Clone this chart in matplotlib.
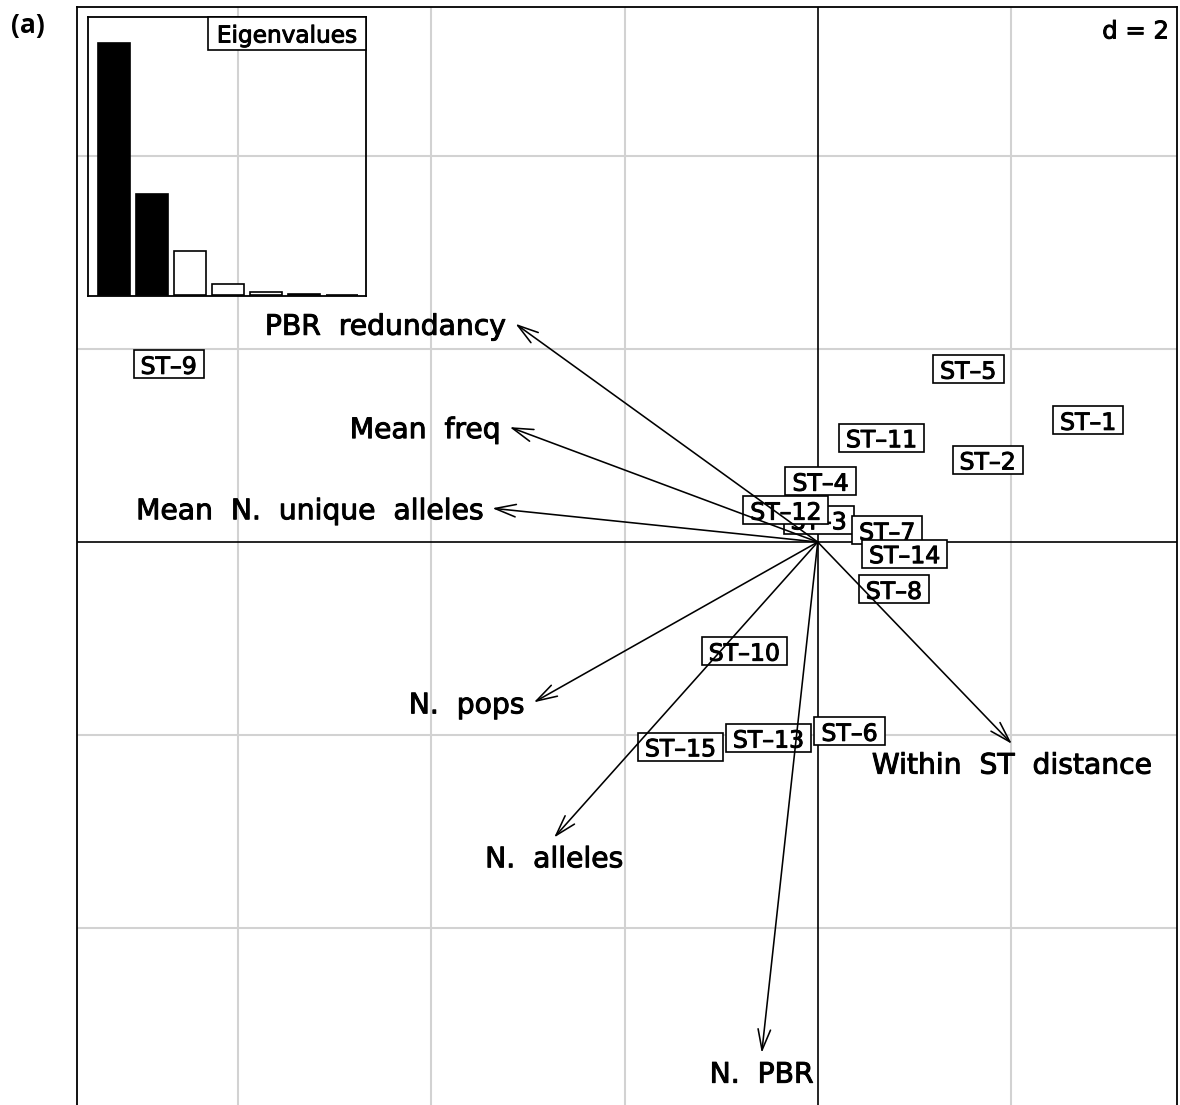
import matplotlib
matplotlib.use('Agg')
from matplotlib import pyplot as plt
from matplotlib.patches import Rectangle, FancyArrowPatch, ArrowStyle
from matplotlib.transforms import IdentityTransform
import matplotlib.patheffects as pe
import numpy as np

# row scores (sequence types)
st_names = ['ST–1', 'ST–2', 'ST–3', 'ST–4', 'ST–5', 'ST–6', 'ST–7', 'ST–8',
            'ST–9', 'ST–10', 'ST–11', 'ST–12', 'ST–13', 'ST–14', 'ST–15']
st_x = [2.80, 1.76, 0.01, 0.03, 1.56, 0.33, 0.72, 0.79,
        -6.72, -0.76, 0.66, -0.33, -0.51, 0.90, -1.42]
st_y = [1.26, 0.85, 0.23, 0.63, 1.79, -1.96, 0.12, -0.49,
        1.84, -1.13, 1.08, 0.33, -2.03, -0.12, -2.12]

# column scores (variables)
var_names = ['PBR  redundancy', 'Mean  freq', 'Mean  N.  unique  alleles',
             'N.  pops', 'N.  alleles', 'Within  ST  distance', 'N.  PBR']
var_x = [-3.13, -3.19, -3.37, -2.94, -2.73, 2.01, -0.58]
var_y = [2.26, 1.19, 0.35, -1.66, -3.06, -2.09, -5.29]

# eigenvalues, first two axes kept
eig = [4.27, 1.71, 0.746, 0.186, 0.051, 0.025, 0.008]
n_kept = 2
grid_d = 2

heavy = [pe.withStroke(linewidth=0.7, foreground='black')]

W, H = 1180, 1105
fig = plt.figure(figsize=(W / 100, H / 100), dpi=100)
ax = fig.add_axes([77 / W, -2 / H, 1100 / W, 1100 / H])
ax.set_xlim(-7.67, 3.72)
ax.set_ylim(-5.85, 5.54)
ax.set_xticks([]), ax.set_yticks([])
for s in ax.spines.values():
    s.set_linewidth(1.3)

# grid + origin lines
for g in np.arange(-6, 4, grid_d):
    if g != 0:
        ax.axvline(g, color='#d2d2d2', lw=1.5, zorder=1)
for g in np.arange(-4, 6, grid_d):
    if g != 0:
        ax.axhline(g, color='#d2d2d2', lw=1.5, zorder=1)
ax.axvline(0, color='black', lw=1.2, zorder=2)
ax.axhline(0, color='black', lw=1.2, zorder=2)

st_texts = []
for i, (name, x, y) in enumerate(zip(st_names, st_x, st_y)):
    t = ax.text(x, y, name, ha='center', va='center_baseline', fontsize=17,
                zorder=4 + 2 * i, path_effects=heavy)
    st_texts.append(t)

# arrows for variables
style = ArrowStyle('->', head_length=15, head_width=4.5)
for name, x, y in zip(var_names, var_x, var_y):
    ax.add_patch(FancyArrowPatch((0, 0), (x, y), arrowstyle=style, mutation_scale=1,
                                 lw=1.15, color='black', shrinkA=0, shrinkB=0, zorder=50))
    if abs(x) >= abs(y):
        ax.annotate(name, (x, y), xytext=(-6.5 if x < 0 else 6.5, 0), textcoords='offset points',
                    ha='right' if x < 0 else 'left', va='center_baseline', fontsize=20.3,
                    zorder=51, path_effects=heavy)
    else:
        ax.annotate(name, (x, y), xytext=(0, -13.5), textcoords='offset points',
                    ha='center', va='center_baseline', fontsize=20.3, zorder=51,
                    path_effects=heavy)

ax.text(1169 / W, 1 - 29 / H, 'd = 2', transform=fig.transFigure, ha='right',
        va='center_baseline', fontsize=17.5, zorder=60, path_effects=heavy)

# eigenvalue inset
iax = fig.add_axes([88 / W, 1 - 296 / H, 278 / W, 279 / H])
iax.set_facecolor('none')
colors = ['black'] * n_kept + ['white'] * (len(eig) - n_kept)
iax.bar(np.arange(len(eig)), eig, width=0.84, color=colors, edgecolor='black', linewidth=1.2)
iax.set_xlim(-0.684, 6.63)
iax.set_ylim(-0.017, 4.71)
iax.set_xticks([]), iax.set_yticks([])
for s in iax.spines.values():
    s.set_linewidth(1.3)
eig_t = iax.text((366 - 9) / W, 1 - 33.5 / H, 'Eigenvalues', transform=fig.transFigure,
                 ha='right', va='center_baseline', fontsize=16.7, zorder=10, path_effects=heavy)

fig.text(11 / W, 1 - 26 / H, '(a)', fontfamily='Open Sans', fontweight='bold', fontsize=19,
         ha='left', va='center')

# white label boxes sized from the rendered text
fig.canvas.draw()
renderer = fig.canvas.get_renderer()


def add_box(axis, t, padx, h, z):
    bb = t.get_window_extent(renderer)
    _, cy = t.get_transform().transform(t.get_position())
    r = Rectangle((bb.x0 - padx, cy - h / 2), bb.width + 2 * padx, h, transform=IdentityTransform(),
                  facecolor='white', edgecolor='black', lw=1.2, zorder=z, clip_on=False)
    axis.add_artist(r)


for i, t in enumerate(st_texts):
    add_box(ax, t, 7, 28, 3 + 2 * i)
add_box(iax, eig_t, 9, 33, 9)

fig.savefig('out.png', dpi=100)
